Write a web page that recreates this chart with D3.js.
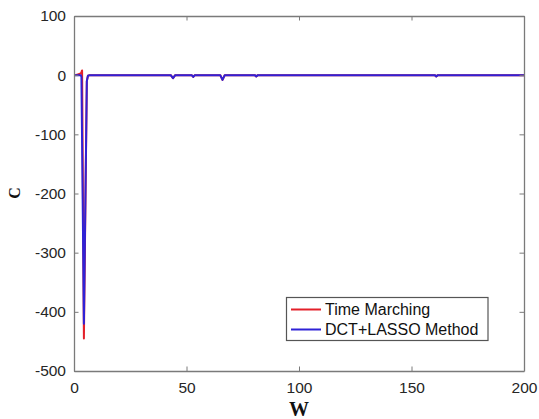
<!DOCTYPE html>
<html>
<head>
<meta charset="utf-8">
<script src="https://cdn.jsdelivr.net/npm/d3@7"></script>
<style>
  html, body { margin: 0; padding: 0; background: #fff; }
  svg { display: block; }
</style>
</head>
<body>
<svg id="chart" width="539" height="419"></svg>
<script>
// ---- data ----
const W      = [0, 1, 2, 3, 3.3, 3.6, 3.9, 4.4, 5.7, 6.2, 7, 20, 43, 44, 45, 52.3, 53, 53.7, 65, 66, 67, 80.3, 81, 81.7, 160.3, 161, 161.7, 200];
const timeMarching = [0, 0.5, 1.5, 3, 5, 8, -160, -445, -10, -1, 0, 0, 0, -5, 0, 0, -3, 0, 0, -8, 0, 0, -2, 0, 0, -2, 0, 0];
const dctLasso     = [0, 0, 0, 0, -3, -115, -230, -420, -10, -1, 0, 0, 0, -5, 0, 0, -3, 0, 0, -8, 0, 0, -2, 0, 0, -2, 0, 0];
const xTicks = [0, 50, 100, 150, 200];
const yTicks = [100, 0, -100, -200, -300, -400, -500];
const seriesNames = ["Time Marching", "DCT+LASSO Method"];
const seriesColors = ["#e3202a", "#2f22d6"];

(function () {
// ---- layout ----
const svg = d3.select("#chart");
const mLeft = 74, mRight = 524, mTop = 16, mBottom = 371;
const x = d3.scaleLinear().domain([0, 200]).range([mLeft, mRight]);
const y = d3.scaleLinear().domain([-500, 100]).range([mBottom, mTop]);

const axisColor = "#7a7a7a";
const tickFont = "'Liberation Sans', Arial, Helvetica, sans-serif";
const fmt = d => String(d);

// clip
svg.append("clipPath").attr("id", "clip")
  .append("rect").attr("x", mLeft).attr("y", mTop).attr("width", mRight - mLeft).attr("height", mBottom - mTop);

// lines
const series = [timeMarching, dctLasso];
const line = d3.line().x((d, i) => x(W[i])).y(d => y(d));
series.forEach((s, k) => {
  svg.append("path")
    .datum(s)
    .attr("clip-path", "url(#clip)")
    .attr("fill", "none")
    .attr("stroke", seriesColors[k])
    .attr("stroke-width", 2)
    .attr("stroke-linejoin", "round")
    .attr("d", line);
});

// axes (ticks inward)
const tl = 4.5;
const gB = svg.append("g").attr("transform", `translate(0,${mBottom})`)
  .call(d3.axisBottom(x).tickValues(xTicks).tickSizeInner(-tl).tickSizeOuter(0).tickPadding(10).tickFormat(fmt));
const gT = svg.append("g").attr("transform", `translate(0,${mTop})`)
  .call(d3.axisTop(x).tickValues(xTicks).tickSizeInner(-tl).tickSizeOuter(0).tickFormat(""));
const gL = svg.append("g").attr("transform", `translate(${mLeft},0)`)
  .call(d3.axisLeft(y).tickValues(yTicks).tickSizeInner(-tl).tickSizeOuter(0).tickPadding(8).tickFormat(fmt));
const gR = svg.append("g").attr("transform", `translate(${mRight},0)`)
  .call(d3.axisRight(y).tickValues(yTicks).tickSizeInner(-tl).tickSizeOuter(0).tickFormat(""));

[gB, gT, gL, gR].forEach(g => {
  g.selectAll(".domain").attr("stroke", axisColor).attr("stroke-width", 1.3);
  g.selectAll(".tick line").attr("stroke", axisColor).attr("stroke-width", 1);
  g.selectAll(".tick text").attr("fill", "#262626").attr("font-family", tickFont).attr("font-size", 15.5);
});
gB.selectAll(".tick text").attr("dy", "0.78em");

// axis labels
svg.append("text")
  .attr("x", 299).attr("y", 416)
  .attr("text-anchor", "middle")
  .attr("font-family", "'Liberation Serif', 'Times New Roman', serif")
  .attr("font-weight", "bold")
  .attr("font-size", 20)
  .attr("fill", "#111")
  .text("W");
svg.append("text")
  .attr("transform", "translate(20,193) rotate(-90)")
  .attr("text-anchor", "middle")
  .attr("font-family", "'Liberation Serif', 'Times New Roman', serif")
  .attr("font-weight", "bold")
  .attr("font-size", 16)
  .attr("fill", "#111")
  .text("C");

// legend
const lg = svg.append("g");
lg.append("rect")
  .attr("x", 286.5).attr("y", 297.5).attr("width", 201.5).attr("height", 43)
  .attr("fill", "#fff").attr("stroke", "#555").attr("stroke-width", 1.2);
const rowsY = [309.5, 329.5];
seriesNames.forEach((name, k) => {
  lg.append("line")
    .attr("x1", 291).attr("x2", 321).attr("y1", rowsY[k]).attr("y2", rowsY[k])
    .attr("stroke", seriesColors[k]).attr("stroke-width", 2);
  lg.append("text")
    .attr("x", 325).attr("y", rowsY[k] + 5.5)
    .attr("font-family", tickFont).attr("font-size", 16).attr("fill", "#111")
    .text(name);
});
})();
</script>
</body>
</html>
